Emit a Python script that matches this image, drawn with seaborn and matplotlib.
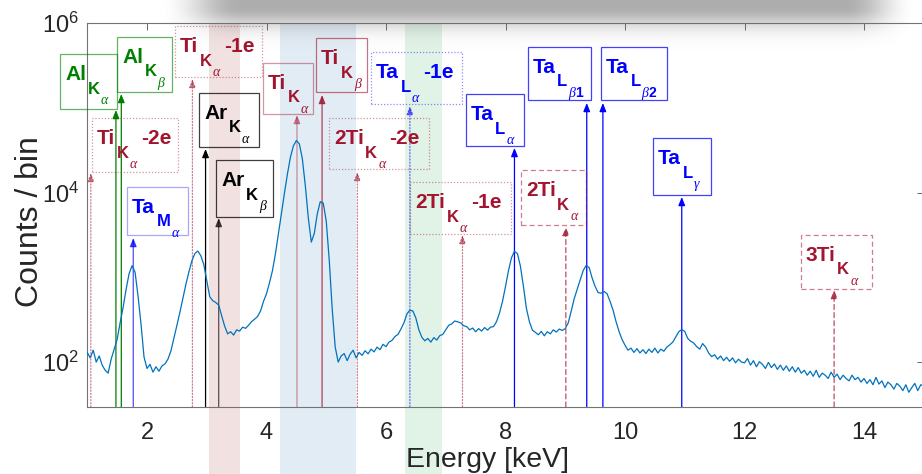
import numpy as np
import pandas as pd
import matplotlib
matplotlib.use("Agg")
import matplotlib.pyplot as plt
from matplotlib.patches import Rectangle
from matplotlib.transforms import IdentityTransform
from matplotlib.ticker import LogFormatterMathtext, NullLocator, FixedLocator
import seaborn as sns

# ---------------- data ----------------
energy_start = 1.0      # keV, first bin
energy_step = 0.05      # keV, bin width
counts = [
    # 1.00 - 1.95 keV
    130, 112, 138, 100, 118, 92, 80, 74, 108, 142, 185, 290, 440, 720, 1100, 1370, 1150, 600, 280, 115,
    # 2.00 - 2.95
    84, 94, 76, 88, 78, 90, 95, 108, 135, 190, 270, 385, 560, 820, 1150, 1550, 1900, 2040, 1800, 1420,
    # 3.00 - 3.95
    920, 590, 530, 505, 470, 350, 265, 215, 228, 208, 240, 232, 258, 250, 272, 300, 320, 345, 400, 520,
    # 4.00 - 4.95
    640, 860, 1200, 1900, 3300, 5800, 9800, 16500, 26000, 35500, 41000, 37500, 25000, 12000, 5000, 2600, 3300, 5600, 7800, 7500,
    # 5.00 - 5.95
    4600, 1600, 420, 150, 100, 118, 126, 104, 124, 138, 112, 130, 120, 136, 125, 142, 132, 150, 140, 162,
    # 6.00 - 6.95
    152, 172, 180, 200, 212, 245, 290, 370, 410, 400, 330, 240, 196, 178, 190, 172, 194, 182, 205, 212,
    # 7.00 - 7.95
    240, 272, 282, 305, 298, 290, 268, 262, 240, 252, 228, 248, 232, 255, 238, 258, 262, 300, 380, 520,
    # 8.00 - 8.95
    780, 1200, 1700, 2030, 1900, 1350, 780, 430, 300, 238, 224, 210, 230, 204, 228, 215, 240, 226, 245, 236,
    # 9.00 - 9.95
    248, 290, 400, 560, 720, 920, 1200, 1380, 1300, 980, 780, 660, 650, 680, 640, 520, 410, 300, 230, 185,
    # 10.00 - 10.95
    158, 138, 146, 130, 144, 128, 140, 126, 142, 130, 146, 128, 142, 134, 150, 160, 172, 198, 228, 242,
    # 11.00 - 11.95
    230, 190, 176, 168, 152, 142, 165, 150, 128, 116, 122, 108, 118, 104, 114, 102, 112, 98, 108, 100,
    # 12.00 - 12.95
    98, 110, 92, 104, 88, 101, 94, 84, 99, 86, 95, 82, 92, 80, 90, 78, 88, 76, 86, 74,
    # 13.00 - 13.95
    80, 70, 78, 68, 80, 66, 74, 70, 64, 76, 66, 72, 62, 70, 64, 60, 70, 62, 66, 58,
    # 14.00 - 14.95
    64, 56, 62, 54, 66, 55, 60, 50, 58, 54, 48, 56, 52, 46, 54, 44, 50, 56, 46, 54,
    # 15.00
    52,
]

# identified lines
line_element = ["Al", "Al", "Ti", "Ti", "Ta", "Ar", "Ar", "Ti", "Ti", "2Ti",
                "Ta", "2Ti", "Ta", "2Ti", "Ta", "Ta", "Ta", "3Ti"]
line_shell = ["K", "K", "K", "K", "M", "K", "K", "K", "K", "K",
              "L", "K", "L", "K", "L", "L", "L", "K"]
line_greek = ["α", "β", "α", "α", "α", "α", "β", "α", "β", "α",
              "α", "α", "α", "α", "β", "β", "γ", "α"]
line_index = ["", "", "", "", "", "", "", "", "", "",
              "", "", "", "", "1", "2", "", ""]
line_suffix = ["", "", "-2e", "-1e", "", "", "", "", "", "-2e",
               "-1e", "-1e", "", "", "", "", "", ""]
line_energy = [1.48, 1.57, 1.06, 2.76, 1.77, 2.98, 3.20, 4.51, 4.93, 5.52,
               6.40, 7.28, 8.15, 9.01, 9.36, 9.63, 10.95, 13.50]

# highlighted energy windows
band_lo = [3.04, 4.22, 6.31]
band_hi = [3.56, 5.49, 6.93]

x_ticks = [2, 4, 6, 8, 10, 12, 14]
y_ticks = [1e2, 1e4, 1e6]

# ---------------- layout (pixels, top-left origin) ----------------
W, H, DPI = 922, 474, 100
AX_L, AX_R, AX_T, AX_B = 87.25, 923.75, 23.0, 407.0
# label boxes: left, top, right, bottom
box_px = [
    (60, 54, 117, 109), (117, 37, 172, 92), (92, 118, 178, 172), (175, 26, 262, 77),
    (127, 187, 188, 235), (199, 93, 259, 147), (216, 160, 273, 217), (263, 63, 313, 114),
    (316, 38, 367, 92), (329, 118, 429, 169), (371, 52, 462, 104), (410, 182, 511, 234),
    (466, 94, 524, 146), (521, 170, 586, 225), (528, 47, 591, 100), (601, 47, 667, 100),
    (653, 138, 711, 195), (801, 235, 872, 289),
]
head_px = [110, 94, 173, 79, 238, 149, 218, 115, 95, 172, 106, 235, 148, 227, 103, 103, 197, 290]

colors = {"Al": "#008000", "Ti": "#A2142F", "Ta": "#0000FF", "Ar": "#000000"}
band_colors = ["#F2E1E1", "#E2ECF5", "#E1F2E6"]
SPEC_COLOR = "#0072BD"
AX_COLOR = "#262626"

sns.set_style("white")
plt.rcParams["font.family"] = ["Liberation Sans", "DejaVu Sans"]
plt.rcParams["mathtext.fontset"] = "custom"
plt.rcParams["mathtext.rm"] = "Liberation Sans"
plt.rcParams["mathtext.it"] = "Liberation Sans:italic"
plt.rcParams["mathtext.bf"] = "Liberation Sans:bold"

fig = plt.figure(figsize=(W / DPI, H / DPI), dpi=DPI)
ax = fig.add_axes([AX_L / W, 1 - AX_B / H, (AX_R - AX_L) / W, (AX_B - AX_T) / H])

energy = np.round(energy_start + energy_step * np.arange(len(counts)), 2)
df = pd.DataFrame({"Energy": energy, "Counts": counts})

ax.set_yscale("log")
ax.set_xlim(1, 15)
ax.set_ylim(29.5, 1e6)

# bands reaching down to the figure bottom
fig_bottom_frac = -(H - AX_B) / (AX_B - AX_T)
for lo, hi, c in zip(band_lo, band_hi, band_colors):
    ax.axvspan(lo, hi, ymin=fig_bottom_frac, ymax=1, color=c, lw=0, zorder=0, clip_on=False)


def line_style(i):
    el = line_element[i]
    base = el.lstrip("23")
    col = colors[base]
    if line_suffix[i]:
        ls, a_line, a_box = (0, (1, 1.5)), 0.55, 0.45
    elif el[0] in "23":
        ls, a_line, a_box = (0, (4, 2.5)), 0.75, 0.55
    else:
        ls, a_line, a_box = "-", 1.0, 0.6
    if el == "Ti" and line_greek[i] == "α" and not line_suffix[i]:
        a_line, a_box = 0.45, 0.45
    if el == "Ti" and line_greek[i] == "β":
        a_line = 0.8
    if el == "Ta" and line_shell[i] == "M":
        a_line, a_box = 0.7, 0.35
    if el == "Ar" and line_greek[i] == "β":
        a_line = 0.65
    if el in ("Ta", "Ar") and not line_suffix[i] and line_shell[i] != "M":
        a_box = 0.75
    return col, ls, a_line, a_box


xt = ax.get_xaxis_transform()
for i, E in enumerate(line_energy):
    col, ls, a_line, a_box = line_style(i)
    head_frac = (AX_B - head_px[i]) / (AX_B - AX_T)
    ax.annotate("", xy=(E, head_frac), xycoords=xt, xytext=(E, 0), textcoords=xt,
                arrowprops=dict(arrowstyle="-|>,head_length=0.5,head_width=0.2",
                                color=col, lw=0.9, ls=ls, alpha=a_line,
                                shrinkA=0, shrinkB=0, mutation_scale=10),
                zorder=2, annotation_clip=False)

sns.lineplot(data=df, x="Energy", y="Counts", ax=ax, color=SPEC_COLOR, lw=0.9,
             estimator=None, zorder=3)

# axes styling
ax.xaxis.set_major_locator(FixedLocator(x_ticks))
ax.yaxis.set_major_locator(FixedLocator(y_ticks))
ax.yaxis.set_minor_locator(NullLocator())
ax.xaxis.set_minor_locator(NullLocator())
ax.yaxis.set_major_formatter(LogFormatterMathtext())
ax.tick_params(axis="both", direction="in", length=5, width=0.7, colors="0.4",
               labelcolor=AX_COLOR, labelsize=17, top=True, right=True)
ax.tick_params(axis="x", pad=11)
ax.tick_params(axis="y", pad=6)
for s in ax.spines.values():
    s.set_color("0.45")
    s.set_linewidth(0.8)
ax.set_facecolor("none")
ax.grid(False)

ax.set_xlabel("Energy [keV]", fontsize=20.5, color=AX_COLOR)
ax.set_ylabel("Counts / bin", fontsize=23, color=AX_COLOR)
ax.xaxis.set_label_coords((487 - AX_L) / (AX_R - AX_L), (AX_B - 447) / (AX_B - AX_T))
ax.yaxis.set_label_coords((45 - AX_L) / (AX_R - AX_L), (AX_B - 222) / (AX_B - AX_T))

# ---------------- label boxes ----------------
renderer = fig.canvas.get_renderer()
ident = IdentityTransform()


def put(x, y_top, s, **kw):
    t = fig.text(x, H - y_top, s, transform=ident, ha="left", va="baseline", zorder=6, **kw)
    return t, t.get_window_extent(renderer=renderer)


for i in range(len(line_energy)):
    col, ls, a_line, a_box = line_style(i)
    l, t, r, b = box_px[i]
    rect = Rectangle((l, H - b), r - l, b - t, transform=ident, fill=False,
                     ec=col, lw=0.9, ls=ls, alpha=a_box, zorder=5)
    fig.add_artist(rect)
    x0 = l + 5
    base = t + 26
    _, bb = put(x0, base, line_element[i], fontsize=15, fontweight="bold", color=col)
    _, bb = put(bb.x1 + 1.5, base + 13.5, line_shell[i], fontsize=12, fontweight="bold", color=col)
    _, bbg = put(bb.x1 + 1, base + 24, line_greek[i], fontsize=10, style="italic",
                 family=["Liberation Serif", "DejaVu Serif"], color=col)
    xe = bbg.x1
    if line_index[i]:
        _, bbi = put(bbg.x1, base + 24, line_index[i], fontsize=10, fontweight="bold", color=col)
        xe = bbi.x1
    if line_suffix[i]:
        put(xe + 4, base, line_suffix[i], fontsize=15, fontweight="bold", color=col)

# ---------------- soft shadow along the top edge ----------------
yy, xx = np.mgrid[0:H, 0:W].astype(float)
ramp_in = np.clip((xx - 160) / 80, 0, 1)
ramp_out = np.clip((915 - xx) / 70, 0, 1)
ax_alpha = (ramp_in ** 2 * (3 - 2 * ramp_in)) * (ramp_out ** 2 * (3 - 2 * ramp_out))
ay_alpha = np.where(yy < 6, 1.0, np.exp(-((yy - 6) / 20) ** 2))
alpha = 0.55 * ax_alpha * ay_alpha
img = np.zeros((H, W, 4))
img[..., :3] = 0.42
img[..., 3] = alpha
fig.figimage(img, xo=0, yo=0, origin="upper", zorder=10)

fig.savefig("out.png", dpi=DPI)
